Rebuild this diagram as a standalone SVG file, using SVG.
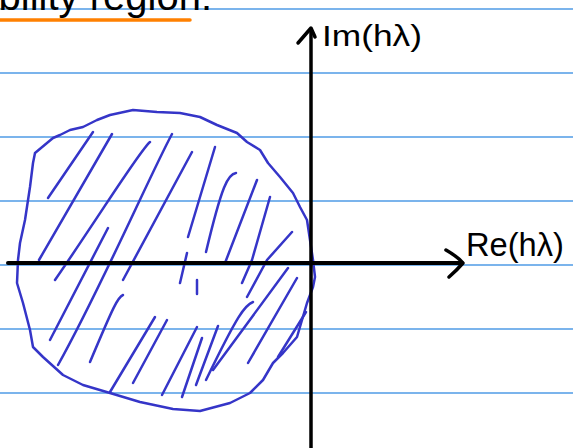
<svg xmlns="http://www.w3.org/2000/svg" width="573" height="448" viewBox="0 0 573 448">
<style>
.rule{stroke:#4f9be6;stroke-width:1.5;fill:none}
.ink{stroke:#000;fill:none;stroke-linecap:round;stroke-linejoin:round}
.blue{stroke:#3535c8;fill:none;stroke-width:2.5;stroke-linecap:round;stroke-linejoin:round}
.hand{font-family:"Liberation Sans",Arial,sans-serif;fill:#000}
</style>
<rect width="573" height="448" fill="#fff"/>
<g id="ruling">
<line class="rule" x1="0" y1="9" x2="573" y2="9"/>
<line class="rule" x1="0" y1="73" x2="573" y2="73"/>
<line class="rule" x1="0" y1="137" x2="573" y2="137"/>
<line class="rule" x1="0" y1="201" x2="573" y2="201"/>
<line class="rule" x1="0" y1="265" x2="573" y2="265"/>
<line class="rule" x1="0" y1="329" x2="573" y2="329"/>
<line class="rule" x1="0" y1="393" x2="573" y2="393"/>
</g>
<g id="heading">
<text class="hand" x="212" y="10" font-size="40" text-anchor="end">Stability region:</text>
<line x1="0" y1="20" x2="190" y2="20" stroke="#ff8000" stroke-width="3.5" stroke-linecap="round"/>
</g>
<g id="region">
<path class="blue" d="M97,120 L83,127 L70,130 L60,135 L53,138 L35,153 L33,163 L30,187 L25,220 L20,243 L18,260 L17,283 L23,303 L30,330 L33,347 L43,357 L63,375 L83,385 L110,393 L140,402 L173,409 L200,411 L230,403 L250,393 L263,380 L273,363 L283,353 L297,337 L302,320 L307,303 L313,287 L315,277 L313,260 L310,240 L307,220 L300,207 L293,193 L280,177 L268,163 L260,150 L247,142 L237,133 L217,125 L200,117 L180,113 L157,112 L133,110 L110,115 Z"/>
<g id="hatching">
<path class="blue" d="M93,132 L48,198"/>
<path class="blue" d="M112,134 L39,260"/>
<path class="blue" d="M150,142 C140,150 100,215 55,280"/>
<path class="blue" d="M108,228 L50,340"/>
<path class="blue" d="M172,134 C150,175 100,290 58,365"/>
<path class="blue" d="M192,152 L123,280"/>
<path class="blue" d="M215,147 L188,237"/>
<path class="blue" d="M236,173 C228,174 222,185 206,252"/>
<path class="blue" d="M257,180 L225,263"/>
<path class="blue" d="M270,197 L252,260 L242,283"/>
<path class="blue" d="M292,232 L267,260 L247,297"/>
<path class="blue" d="M288,268 L213,370"/>
<path class="blue" d="M297,278 L248,363"/>
<path class="blue" d="M253,302 C245,305 238,314 206,380"/>
<path class="blue" d="M306,312 L278,357"/>
<path class="blue" d="M197,327 L162,395"/>
<path class="blue" d="M202,338 L182,397"/>
<path class="blue" d="M218,326 L196,385"/>
<path class="blue" d="M155,317 L110,392"/>
<path class="blue" d="M167,320 L133,383"/>
<path class="blue" d="M123,295 C118,297 114,305 90,362"/>
</g>
<g id="tick">
<path class="blue" d="M187,253 L180,283" stroke-width="3"/>
<path class="blue" d="M197,280 L197,294" stroke-width="2.8"/>
</g>
</g>
<g id="connectors">
<path class="ink" d="M8,263 L462,263" stroke-width="4"/>
<path class="ink" d="M446,250 Q458,257 463,263 Q457,270 449,277" stroke-width="3.5"/>
<path class="ink" d="M311,448 L311,30" stroke-width="3.5"/>
<path class="ink" d="M298,43 L311,28 L315,37" stroke-width="3.5"/>
</g>
<g id="labels">
<text class="hand" x="322" y="46" font-size="30" textLength="100" lengthAdjust="spacingAndGlyphs">Im(hλ)</text>
<text class="hand" x="466" y="256" font-size="34" textLength="98" lengthAdjust="spacingAndGlyphs">Re(hλ)</text>
</g>
</svg>
